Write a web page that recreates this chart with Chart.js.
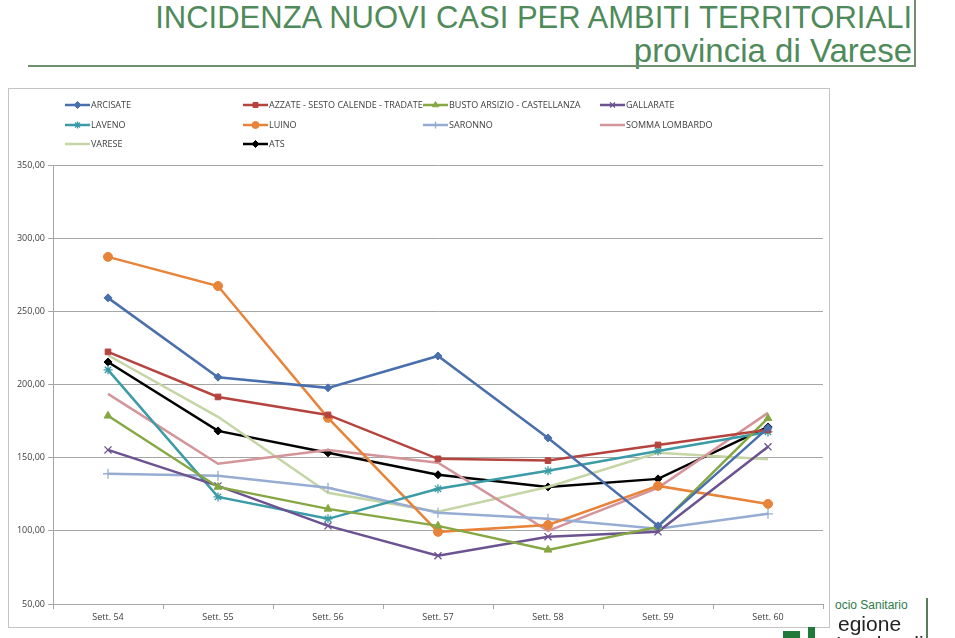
<!DOCTYPE html>
<html>
<head>
<meta charset="utf-8">
<script src="https://cdn.jsdelivr.net/npm/chart.js@4/dist/chart.umd.min.js"></script>
<style>
  body { margin: 0; background: #fff; width: 955px; height: 638px; overflow: hidden; position: relative; font-family: "Liberation Sans", Arial, sans-serif; }
  #title { position: absolute; right: 43px; top: 0; text-align: right; color: #4f8a5a; font-family: "Liberation Sans Narrow", "Arial Narrow", "Liberation Sans", sans-serif; line-height: 1; }
  #title .t1 { font-size: 31px; margin-top: 2px; }
  #title .t2 { font-size: 33px; margin-top: 1px; }
  #hline { position: absolute; left: 28px; top: 65px; width: 888px; height: 2px; background: #6f8f6f; }
  #vline { position: absolute; left: 914px; top: 0; width: 2px; height: 66px; background: #6f8f6f; }
  #frame { position: absolute; left: 8px; top: 88px; width: 822px; height: 540px; border: 1px solid #c4c4c4; box-sizing: border-box; }
  #chartWrap { position: absolute; left: 8px; top: 88px; width: 822px; height: 540px; }
  #asl { position: absolute; left: 835px; top: 598px; font-size: 12px; color: #2f7a4a; font-family: "Liberation Sans", sans-serif; }
  #reg { position: absolute; left: 838px; top: 613px; font-size: 21px; color: #222; font-family: "Liberation Sans", sans-serif; line-height: 1; }
  #reg2 { position: absolute; left: 836px; top: 633px; font-size: 21px; color: #222; font-family: "Liberation Sans", sans-serif; line-height: 1; }
  #vline2 { position: absolute; left: 926px; top: 598px; width: 2px; height: 40px; background: #5a7a5a; }
  #logo { position: absolute; left: 783px; top: 631px; width: 17px; height: 7px; background: #1f7a3a; }
  #logo2 { position: absolute; left: 808px; top: 627px; width: 7px; height: 11px; background: #1f7a3a; }
</style>
</head>
<body>
<div id="title"><div class="t1">INCIDENZA NUOVI CASI PER AMBITI TERRITORIALI</div><div class="t2">provincia di Varese</div></div>
<div id="hline"></div>
<div id="vline"></div>
<div id="frame"></div>
<div id="chartWrap"><canvas id="chart" width="822" height="540"></canvas></div>
<div id="asl">ocio Sanitario</div>
<div id="reg">egione</div>
<div id="reg2">Lombardia</div>
<div id="vline2"></div>
<div id="logo"></div>
<div id="logo2"></div>
<script>
// ---------- Data ----------
const weeks = ["Sett. 54", "Sett. 55", "Sett. 56", "Sett. 57", "Sett. 58", "Sett. 59", "Sett. 60"];

const arcisate  = [259.2, 205.0, 197.7, 219.5, 163.5, 103.4, 170.4];
const azzate    = [222.3, 191.5, 179.2, 149.2, 148.0, 158.7, 169.0];
const busto     = [178.6, 130.0, 115.0, 103.4, 87.0, 102.7, 177.0];
const gallarate = [155.3, 130.7, 103.4, 83.0, 96.0, 99.3, 157.4];
const laveno    = [210.0, 123.2, 108.2, 128.7, 141.0, 154.6, 167.6];
const luino     = [287.2, 267.3, 177.2, 99.3, 104.0, 130.7, 118.4];
const saronno   = [139.0, 137.6, 129.4, 112.3, 108.2, 101.4, 111.6];
const somma     = [193.6, 145.8, 155.3, 146.5, 100.0, 129.4, 180.6];
const varese    = [220.0, 177.9, 126.0, 113.0, 130.0, 153.3, 149.0];
const ats       = [215.4, 168.3, 153.3, 138.3, 130.0, 135.5, 171.0];

const yTicks = [50, 100, 150, 200, 250, 300, 350];

// ---------- Series setup ----------
function series(label, data, color, style, radius) {
  return {
    label: label,
    data: data,
    borderColor: color,
    backgroundColor: color,
    borderWidth: 2.5,
    pointStyle: style,
    pointRadius: radius,
    pointBorderWidth: style === "crossRot" || style === "cross" || style === "star" ? 1.3 : 1,
    tension: 0,
  };
}

const datasets = [
  series("ARCISATE", arcisate, "#4a6fad", "rectRot", 4),
  series("AZZATE - SESTO CALENDE - TRADATE", azzate, "#b5443f", "rect", 4),
  series("BUSTO ARSIZIO - CASTELLANZA", busto, "#86a844", "triangle", 4.5),
  series("GALLARATE", gallarate, "#6c5290", "crossRot", 5),
  series("LAVENO", laveno, "#3b9ba6", "star", 4.5),
  series("LUINO", luino, "#e8833a", "circle", 4.5),
  series("SARONNO", saronno, "#97acd2", "cross", 5),
  series("SOMMA LOMBARDO", somma, "#d3949a", "line", 0),
  series("VARESE", varese, "#c5d5a5", "line", 0),
  series("ATS", ats, "#000000", "rectRot", 4),
];

// ---------- Legend (4 columns like the Excel chart) ----------
const legendPlugin = {
  id: "gridLegend",
  afterDraw(chart) {
    const ctx = chart.ctx;
    const colX = [57, 235, 415, 592];
    const rowY = [17, 37, 56];
    ctx.save();
    chart.data.datasets.forEach((ds, i) => {
      const x = colX[i % 4];
      const y = rowY[Math.floor(i / 4)];
      ctx.strokeStyle = ds.borderColor;
      ctx.lineWidth = 2.5;
      ctx.beginPath();
      ctx.moveTo(x, y);
      ctx.lineTo(x + 25, y);
      ctx.stroke();
      if (ds.pointRadius > 0) {
        ctx.fillStyle = ds.backgroundColor;
        ctx.lineWidth = ds.pointBorderWidth;
        Chart.helpers.drawPoint(ctx, { pointStyle: ds.pointStyle, radius: 3.5, rotation: 0, borderWidth: ds.pointBorderWidth }, x + 12.5, y);
      }
      ctx.fillStyle = "#404040";
      ctx.font = "9px 'Open Sans', sans-serif";
      ctx.textBaseline = "middle";
      ctx.textAlign = "left";
      ctx.fillText(ds.label, x + 26, y + 0.5);
    });
    ctx.restore();
  },
};

const ctx = document.getElementById("chart").getContext("2d");
new Chart(ctx, {
  type: "line",
  data: { labels: weeks, datasets: datasets },
  options: {
    responsive: false,
    animation: false,
    layout: { padding: { top: 77, right: 7, left: 0, bottom: 0 } },
    plugins: { legend: { display: false }, tooltip: { enabled: false } },
    scales: {
      x: {
        offset: true,
        afterFit(scale) { scale.height = 24; },
        grid: { drawOnChartArea: false, drawTicks: true, tickLength: 5, color: "#a6a6a6", offset: true },
        border: { color: "#a6a6a6", width: 1 },
        ticks: { color: "#404040", font: { size: 9, family: "'Open Sans', sans-serif" }, padding: 3, maxRotation: 0 },
      },
      y: {
        min: yTicks[0],
        max: yTicks[yTicks.length - 1],
        afterFit(scale) { scale.width = 45; },
        afterBuildTicks(scale) { scale.ticks = yTicks.map((v) => ({ value: v })); },
        grid: { color: "#a6a6a6", tickLength: 5, lineWidth: 1 },
        border: { color: "#a6a6a6", width: 1 },
        ticks: {
          color: "#404040",
          font: { size: 9, family: "'Open Sans', sans-serif" },
          padding: 3,
          callback: (v) => v.toFixed(2).replace(".", ","),
        },
      },
    },
  },
  plugins: [legendPlugin],
});
</script>
</body>
</html>
